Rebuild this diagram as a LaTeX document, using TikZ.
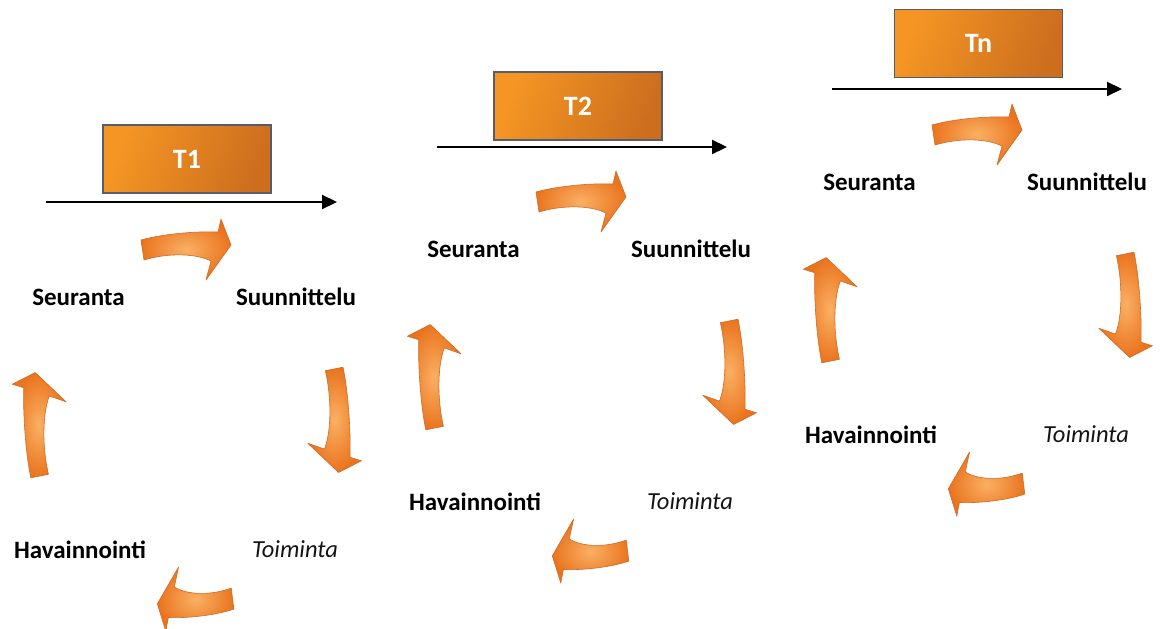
\documentclass[tikz,border=0pt]{standalone}
\usepackage{fontspec}
\setmainfont{Carlito}
\usetikzlibrary{arrows.meta}
\definecolor{boxA}{RGB}{245,150,36}
\definecolor{boxB}{RGB}{204,110,30}
\definecolor{boxline}{RGB}{85,92,112}
\definecolor{arrIn}{RGB}{250,176,100}
\definecolor{arrOut}{RGB}{234,116,30}
\definecolor{arrLine}{RGB}{205,108,38}
\tikzset{
  timebox/.style={draw=boxline, line width=1.5pt, shading=axis, left color=boxA, right color=boxB,
    shading angle=70,
    minimum width=168pt, minimum height=68pt, inner sep=0pt, text=white,
    font=\bfseries\fontsize{28}{32}\selectfont},
  boldlabel/.style={font=\bfseries\fontsize{25}{30}\selectfont, inner sep=0pt},
  itlabel/.style={font=\itshape\fontsize{24.5}{29}\selectfont, inner sep=0pt, text=black!92},
  timeline/.style={line width=2.2pt, -{Triangle[length=15pt,width=14pt]}},
  cyclearrow/.style={draw=arrLine, line width=0.6pt, inner color=arrIn, outer color=arrOut, line join=round},
}
\newcommand{\blockarr}[1]{%
  \path[cyclearrow,#1] (-46,-11) .. controls (-25,-17) and (10,-20) .. (31,-19)
    -- (34,-32) -- (44,-6) -- (19,29) -- (24,10)
    .. controls (8,2) and (-20,2) .. (-43,9) -- cycle;}
\newcommand{\drawcycle}[3]{%
  \begin{scope}[shift={(#2,#3)}]
    \node[boldlabel] (#1seu) at (78.5,297) {Seuranta};
    \node[boldlabel] (#1suu) at (296,297) {Suunnittelu};
    \node[itlabel] (#1toi) at (295,549.5) {Toiminta};
    \node[boldlabel] (#1hav) at (80,549.5) {Havainnointi};
    \blockarr{shift={(187,251)}}
    \blockarr{shift={(333.3,421)}, rotate=-90, xscale=1.17, yscale=0.88}
    \blockarr{shift={(194.7,597.5)}, rotate=180, xscale=0.85, yscale=1.05}
    \blockarr{shift={(40.5,424)}, rotate=90, xscale=1.17, yscale=0.88}
  \end{scope}}
\begin{document}
\begin{tikzpicture}[x=1pt,y=-1pt]
  \useasboundingbox (0,0) rectangle (1160,629);
  % time boxes
  \node[timebox] (t1) at (187,159) {T1};
  \node[timebox] (t2) at (578,106) {T2};
  \node[timebox] (tn) at (978.5,43.5) {Tn};
  % time lines
  \coordinate (l1a) at (46,202);  \coordinate (l1b) at (337,202);
  \coordinate (l2a) at (437,147); \coordinate (l2b) at (727,147);
  \coordinate (l3a) at (832,89);  \coordinate (l3b) at (1122,89);
  \draw[timeline] (l1a) -- (l1b);
  \draw[timeline] (l2a) -- (l2b);
  \draw[timeline] (l3a) -- (l3b);
  % cycles
  \drawcycle{a}{0}{0}
  \drawcycle{b}{395}{-48}
  \drawcycle{c}{791}{-115}
\end{tikzpicture}
\end{document}
